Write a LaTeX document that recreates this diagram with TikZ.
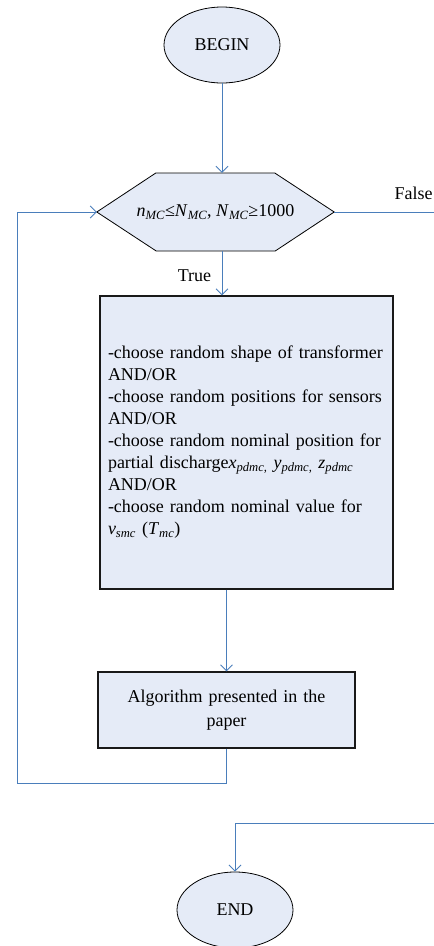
\documentclass[tikz,border=0pt]{standalone}
\usepackage{fontspec}
\setmainfont{Liberation Serif}
\usetikzlibrary{shapes.geometric}
\usetikzlibrary{arrows.meta}
\tikzset{>={Straight Barb[length=6pt,width=12pt]}}
\definecolor{boxfill}{RGB}{229,235,247}
\definecolor{flowblue}{RGB}{74,126,187}
\tikzstyle{terminal}=[ellipse,draw=black,fill=boxfill,line width=0.8pt,minimum width=116pt,minimum height=76pt,inner sep=0pt]
\tikzstyle{block}=[rectangle,draw=black!90,fill=boxfill,line width=1.2pt,inner sep=8pt]
\tikzstyle{flow}=[flowblue,line width=0.9pt]
\newcommand{\isub}[1]{\textsubscript{\itshape #1}}

\begin{document}
\begin{tikzpicture}[x=1pt,y=-1pt,font=\fontsize{18}{22}\selectfont]

  % page
  \useasboundingbox (0,0) rectangle (434,946);

  % start
  \node[terminal] (begin) at (222,45) {BEGIN};

  % test
  \node[minimum width=237pt,minimum height=78pt,inner sep=0pt] (cond) at (215.5,212) {};
  \draw[fill=boxfill,draw=black,line width=0.8pt]
    (cond.west) -- ++(59,-39) -- ++(119,0) -- (cond.east) -- ++(-59,39) -- ++(-119,0) -- cycle;
  \node at (cond) {\textit{n}\isub{MC}≤\textit{N}\isub{MC}, \textit{N}\isub{MC}≥1000};

  % random choices
  \node[block,minimum width=293pt,minimum height=293pt,text width=277pt,align=left] (task) at (246.5,442.5)
    {-choose random shape of transformer\\
     AND/OR\\
     -choose random positions for sensors\\
     AND/OR\\
     -choose random nominal position for\\
     partial discharge\textit{x}\isub{pdmc,} \textit{y}\isub{pdmc,} \textit{z}\isub{pdmc}\\
     AND/OR\\
     -choose random nominal value for\\
     \textit{v}\isub{smc} (\textit{T}\isub{mc})};

  % algorithm
  \node[block,minimum width=257pt,minimum height=76pt,text width=241pt,align=center,
    font=\fontsize{18}{24}\selectfont] (algo) at (226.5,710)
    {Algorithm presented in the\\ paper};

  % stop
  \node[terminal] (end) at (235,910) {END};

  % connectors
  \coordinate (loopcorner) at (17,783);
  \coordinate (exit) at (434,212);
  \coordinate (reentry) at (434,823);

  \draw[flow,->] (begin.south) -- (begin.south |- cond.north);
  \draw[flow,->] (begin.south |- cond.south) -- node[left=7pt,pos=0.55,text=black] {True} (begin.south |- task.north);
  \draw[flow,->] (algo.north |- task.south) -- (algo.north);
  \draw[flow,->] (algo.south) |- (loopcorner) |- (cond.west);
  \draw[flow] (cond.east) -- (exit) node[anchor=east,inner sep=1pt,shift={(0,-19)},text=black] {False};
  \draw[flow,->] (reentry) -| (end.north);

\end{tikzpicture}
\end{document}
